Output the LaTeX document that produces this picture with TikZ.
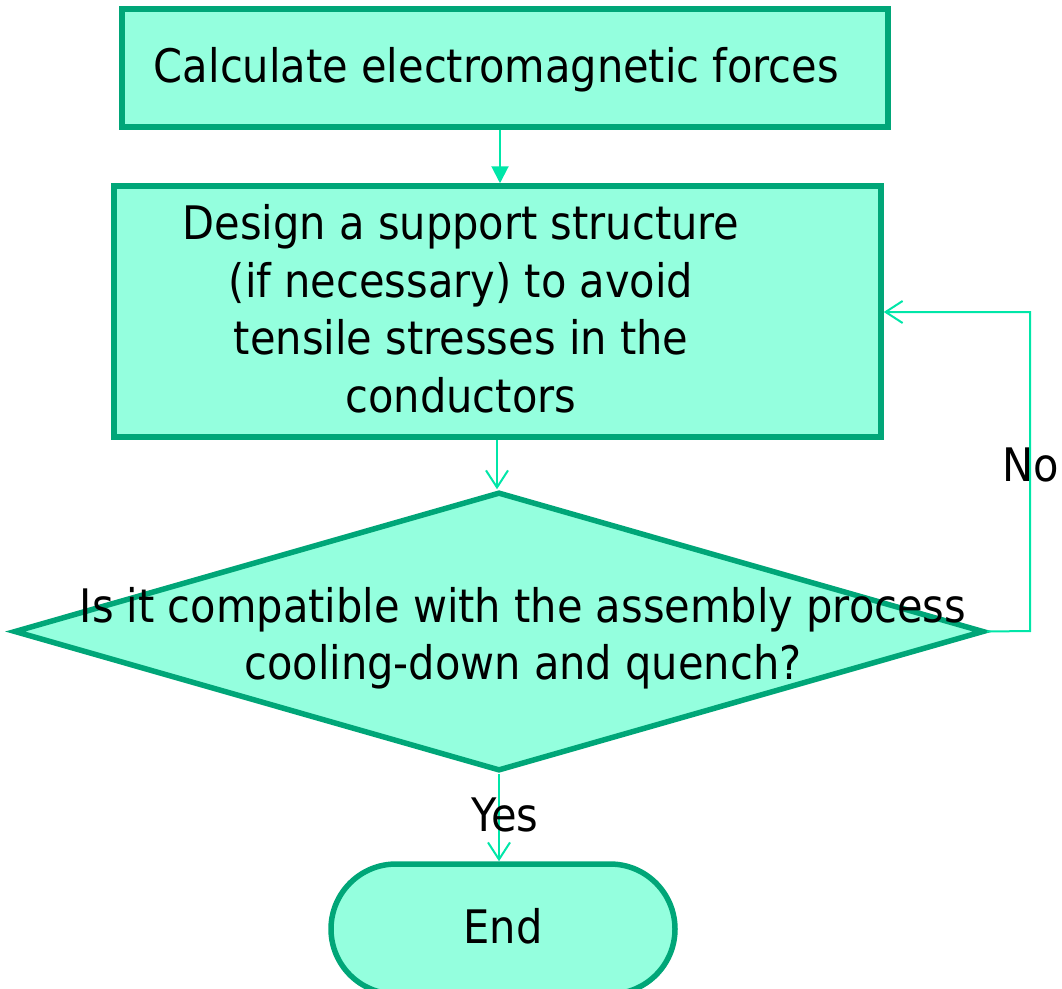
\documentclass[tikz,border=0pt]{standalone}
\usepackage{fontspec}
\setmainfont{DejaVu Sans Condensed}
\usetikzlibrary{arrows.meta,shapes.geometric,shapes.misc}
\definecolor{bordergreen}{RGB}{0,166,120}
\definecolor{mintfill}{RGB}{148,255,222}
\definecolor{linkgreen}{RGB}{0,230,168}
\begin{document}
\begin{tikzpicture}[x=1pt,y=-1pt,
  font=\fontsize{46.2}{57.5}\selectfont,
  boxstyle/.style={draw=bordergreen,fill=mintfill,line width=5.5pt,inner sep=0pt,rectangle},
  txt/.style={inner sep=0pt,align=center,text=black},
  link/.style={draw=linkgreen,line width=2pt},
  openhead/.style={-{Straight Barb[length=17pt,width=22pt,line width=2pt]}},
  solidhead/.style={-{Triangle[length=17pt,width=17pt]}}]
\useasboundingbox (0,0) rectangle (1062,988);
\node[boxstyle,minimum width=766pt,minimum height=118pt] (calc) at (505,68) {};
\node[txt] (calctext) at (496.5,70) {Calculate electromagnetic forces};
\node[boxstyle,minimum width=767pt,minimum height=251pt] (design) at (497.5,311.5) {};
\node[txt] (designtext) at (461,309) {Design a support structure\\(if necessary) to avoid\\tensile stresses in the\\conductors};
\node[diamond,draw=bordergreen,fill=mintfill,line width=5.5pt,inner sep=0pt,minimum width=970pt,minimum height=279pt] (check) at (499,631.5) {};
\node[txt] (checktext) at (523,638) {Is it compatible with the assembly process\\cooling-down and quench?};
\node[rounded rectangle,draw=bordergreen,fill=mintfill,line width=5.5pt,inner sep=0pt,minimum width=344pt,minimum height=130pt] (endnode) at (503,929) {};
\node[txt] (endtext) at (503,926) {End};
\draw[link,solidhead] (calc.south -| 500,0) -- (design.north -| 500,0);
\draw[link,openhead] (design.south -| 497,0) -- (check.north -| 497,0);
\coordinate (loopr) at (1030,631);
\draw[link,openhead] (check.east) -- (loopr) |- (design.east |- 0,312);
\draw[link,openhead] (check.south) -- (endnode.north -| check.south);
\node[txt] (nolabel) at (1031,465) {No};
\node[txt] (yeslabel) at (505,815) {Yes};
\end{tikzpicture}
\end{document}
